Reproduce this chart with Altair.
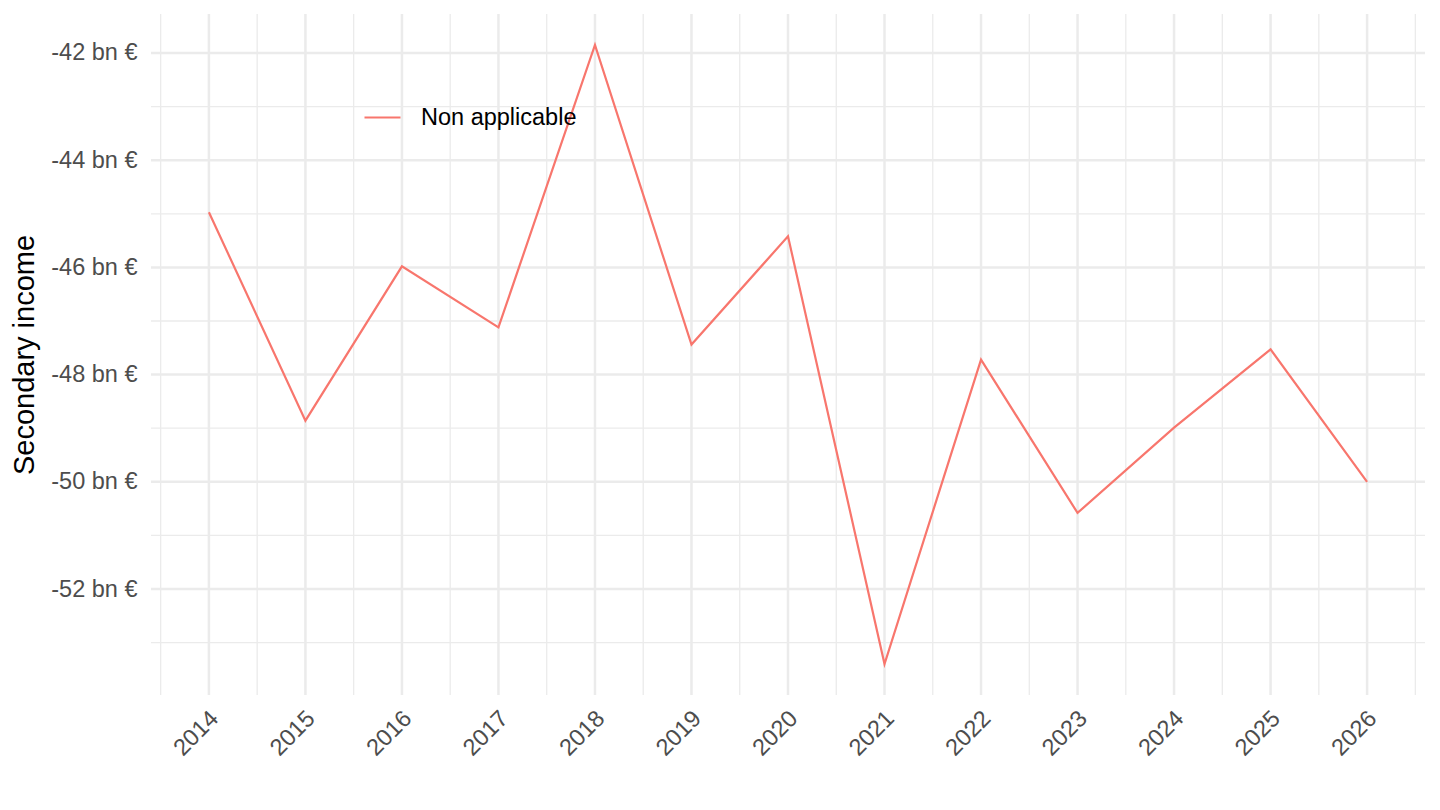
import altair as alt
import pandas as pd

years = [2014, 2015, 2016, 2017, 2018, 2019, 2020, 2021, 2022, 2023, 2024, 2025, 2026]
values = [-44.97, -48.86, -45.98, -47.12, -41.85, -47.44, -45.42, -53.40, -47.72, -50.58, -48.99, -47.53, -50.00]
series = "Non applicable"

x_major = years
x_minor = [y - 0.5 for y in years] + [2026.5]
y_major = [-52, -50, -48, -46, -44, -42]
y_minor = [-53, -51, -49, -47, -45, -43]

x_domain = [2013.4, 2026.6]
y_domain = [-53.9775, -41.2725]

df = pd.DataFrame({"year": years, "value": values, "series": [series] * len(years)})

xs = alt.Scale(domain=x_domain, nice=False, zero=False)
ys = alt.Scale(domain=y_domain, nice=False, zero=False)

GRID = "#EBEBEB"
FONT = "Liberation Sans"

vmin = alt.Chart(pd.DataFrame({"x": x_minor})).mark_rule(color=GRID, strokeWidth=1.3).encode(
    x=alt.X("x:Q", scale=xs))
vmaj = alt.Chart(pd.DataFrame({"x": x_major})).mark_rule(color=GRID, strokeWidth=2.5).encode(
    x=alt.X("x:Q", scale=xs))
hmin = alt.Chart(pd.DataFrame({"y": y_minor})).mark_rule(color=GRID, strokeWidth=1.3).encode(
    y=alt.Y("y:Q", scale=ys))
hmaj = alt.Chart(pd.DataFrame({"y": y_major})).mark_rule(color=GRID, strokeWidth=2.5).encode(
    y=alt.Y("y:Q", scale=ys))

line = alt.Chart(df).mark_line(strokeWidth=2.2).encode(
    x=alt.X("year:Q", scale=xs, title=None,
            axis=alt.Axis(values=x_major, format="d", labelAngle=-45, labelAlign="right",
                          labelBaseline="top", labelPadding=11, labelOffset=-3, grid=False,
                          ticks=False, domain=False, labelFontSize=23.5, labelColor="#4D4D4D",
                          labelFont=FONT)),
    y=alt.Y("value:Q", scale=ys, title="Secondary income",
            axis=alt.Axis(values=y_major, labelExpr="datum.value + ' bn €'", grid=False,
                          ticks=False, domain=False, labelFontSize=23.5, labelColor="#4D4D4D",
                          labelFont=FONT, labelPadding=14,
                          titleFontSize=29, titleFont=FONT, titleColor="black",
                          titleFontWeight="normal", titlePadding=11)),
    color=alt.Color("series:N", scale=alt.Scale(domain=[series], range=["#F8766D"]),
                    legend=alt.Legend(title=None, orient="none", legendX=212, legendY=84,
                                      symbolType="stroke", symbolSize=1296, symbolStrokeWidth=2.2,
                                      labelFontSize=23.5, labelFont=FONT,
                                      labelColor="black", labelOffset=19)),
)

chart = alt.layer(vmin, vmaj, hmin, hmaj, line).properties(
    width=1274, height=681, autosize=alt.AutoSizeParams(type="none"),
    padding={"left": 143, "top": 6, "right": 7, "bottom": 100},
    background="white",
).configure_view(stroke=None)

chart.save("out.html", embed_options={"renderer": "svg", "actions": False})
